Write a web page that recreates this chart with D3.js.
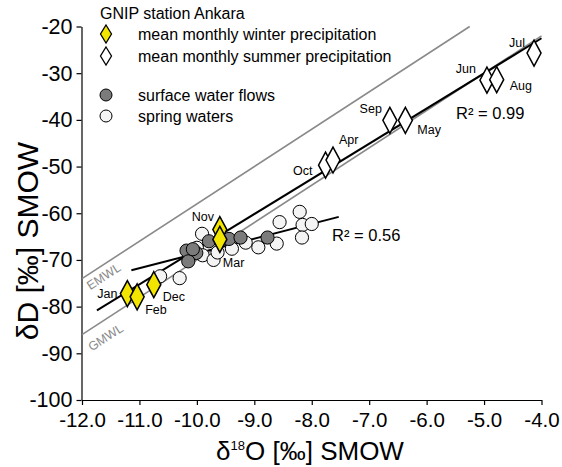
<!DOCTYPE html>
<html>
<head>
<meta charset="utf-8">
<script src="https://cdn.jsdelivr.net/npm/d3@7"></script>
<style>
  body { margin: 0; background: #fff; }
  svg { font-family: "Liberation Sans", Arial, sans-serif; }
</style>
</head>
<body>
<svg id="chart" width="562" height="467"></svg>
<script>
// GNIP station Ankara - monthly means of precipitation
const winterMonths = ['Nov', 'Dec', 'Jan', 'Feb', 'Mar'];
const winterO = [-9.6, -10.75, -11.21, -11.04, -9.6];
const winterD = [-63.5, -75.3, -77.2, -77.9, -65.6];

const summerMonths = ['Oct', 'Apr', 'Sep', 'May', 'Jun', 'Aug', 'Jul'];
const summerO = [-7.76, -7.63, -6.64, -6.37, -4.95, -4.78, -4.13];
const summerD = [-49.7, -48.6, -40.1, -40.1, -31.5, -31.4, -25.7];

// water samples
const surfaceO = [-10.18, -10.01, -10.15, -10.07, -9.79, -9.44, -9.24, -8.77];
const surfaceD = [-68.0, -68.5, -70.3, -67.7, -66.0, -65.5, -65.2, -65.2];

const springO = [-9.91, -10.0, -9.9, -9.71, -9.64, -9.39, -9.15, -8.93, -8.61,
  -8.56, -8.21, -8.16, -8.0, -8.17, -10.64, -10.3];
const springD = [-64.4, -67.4, -69.0, -70.0, -68.4, -67.6, -66.3, -67.3, -66.5,
  -61.9, -59.7, -62.5, -62.3, -65.2, -73.5, -73.9];

// meteoric water lines and fits: [slope, intercept], x range
const gmwl = [8, 10];
const gmwlX = [-12, -4];
const emwl = [8, 22];
const emwlX = [-12, -5.25];
const precipFit = [7.53, 7.6];
const precipFitX = [-11.74, -4.0];
const waterFit = [3.17, -36.9];
const waterFitX = [-11.14, -7.53];

const xTicks = [-12, -11, -10, -9, -8, -7, -6, -5, -4];
const yTicks = [-20, -30, -40, -50, -60, -70, -80, -90, -100];

// label placement around each diamond (pixels)
const labelPos = {
  Jan: [-10, 4, 'end'], Feb: [8, 17, 'start'], Dec: [9, 16, 'start'],
  Nov: [-17, -9, 'middle'], Mar: [3, 28, 'start'],
  Oct: [-13, 10, 'end'], Apr: [6, -16, 'start'],
  Sep: [-8, -7, 'end'], May: [12, 14, 'start'],
  Jun: [-11, -7, 'end'], Aug: [13, 10, 'start'], Jul: [-9, -6, 'end']
};

const svg = d3.select('#chart');
const yellow = '#f2e500';

const x = d3.scaleLinear().domain([-12, -4]).range([82, 541.5]);
const y = d3.scaleLinear().domain([-100, -20]).range([400, 26.5]);

// axes
const xAxis = d3.axisBottom(x).tickValues(xTicks).tickSize(5).tickSizeOuter(0)
  .tickFormat(d => d.toFixed(1));
const yAxis = d3.axisLeft(y).tickValues(yTicks).tickSize(5).tickSizeOuter(0)
  .tickFormat(d => String(d));

const gx = svg.append('g').attr('transform', 'translate(0,400)').call(xAxis);
const gy = svg.append('g').attr('transform', 'translate(81.5,0)').call(yAxis);

[gx, gy].forEach(g => {
  g.select('.domain').attr('stroke', '#000').attr('stroke-width', 1.2);
  g.selectAll('.tick line').attr('stroke', '#000').attr('stroke-width', 1.2);
  g.selectAll('.tick text').attr('fill', '#000')
    .style('font-family', '"Liberation Sans", Arial, sans-serif');
});
gx.selectAll('.tick text').attr('dy', '0.95em').style('font-size', '20.5px');
gy.selectAll('.tick text').attr('x', -9).style('font-size', '21.5px');

// axis titles
svg.append('text')
  .attr('transform', 'translate(38,241)rotate(-90)')
  .attr('text-anchor', 'middle')
  .style('font-size', '30px')
  .text('δD [‰] SMOW');

const xt = svg.append('text')
  .attr('x', 310).attr('y', 460)
  .attr('text-anchor', 'middle')
  .style('font-size', '26px');
xt.append('tspan').text('δ');
xt.append('tspan').attr('dy', -10).style('font-size', '13px').text('18');
xt.append('tspan').attr('dy', 10).text('O [‰] SMOW');

// straight lines
const line = d3.line().x(d => x(d[0])).y(d => y(d[1]));
function fitPoints(coef, xr) {
  return xr.map(v => [v, coef[0] * v + coef[1]]);
}

svg.append('path').datum(fitPoints(emwl, emwlX)).attr('d', line)
  .attr('fill', 'none').attr('stroke', '#8a8a8a').attr('stroke-width', 1.6);
svg.append('path').datum(fitPoints(gmwl, gmwlX)).attr('d', line)
  .attr('fill', 'none').attr('stroke', '#8a8a8a').attr('stroke-width', 1.6);

const angle = Math.atan2(y(8) - y(0), x(1) - x(0)) * 180 / Math.PI;
svg.append('text')
  .attr('transform', `translate(106,280)rotate(${angle})`)
  .attr('text-anchor', 'middle').attr('fill', '#8a8a8a')
  .style('font-size', '12.5px').text('EMWL');
svg.append('text')
  .attr('transform', `translate(108,341)rotate(${angle})`)
  .attr('text-anchor', 'middle').attr('fill', '#8a8a8a')
  .style('font-size', '12.5px').text('GMWL');

svg.append('path').datum(fitPoints(precipFit, precipFitX)).attr('d', line)
  .attr('fill', 'none').attr('stroke', '#000').attr('stroke-width', 2);
svg.append('path').datum(fitPoints(waterFit, waterFitX)).attr('d', line)
  .attr('fill', 'none').attr('stroke', '#000').attr('stroke-width', 2);

// water samples
svg.append('g').selectAll('circle')
  .data(springO.map((o, i) => [o, springD[i]]))
  .enter().append('circle')
  .attr('cx', d => x(d[0])).attr('cy', d => y(d[1])).attr('r', 6.6)
  .attr('fill', '#f4f4f4').attr('stroke', '#000').attr('stroke-width', 1);

svg.append('g').selectAll('circle')
  .data(surfaceO.map((o, i) => [o, surfaceD[i]]))
  .enter().append('circle')
  .attr('cx', d => x(d[0])).attr('cy', d => y(d[1])).attr('r', 6.6)
  .attr('fill', '#7b7b7b').attr('stroke', '#000').attr('stroke-width', 1);

// precipitation diamonds
const diamond = (w, h) => `M0,${-h / 2}L${w / 2},0L0,${h / 2}L${-w / 2},0Z`;

function drawMonths(months, os, ds, fill) {
  const data = months.map((m, i) => ({ m, o: os[i], d: ds[i] }));
  const g = svg.append('g');
  g.selectAll('path').data(data).enter().append('path')
    .attr('d', diamond(14, 26))
    .attr('transform', d => `translate(${x(d.o)},${y(d.d)})`)
    .attr('fill', fill).attr('stroke', '#000').attr('stroke-width', 1.5);
  g.selectAll('text').data(data).enter().append('text')
    .attr('x', d => x(d.o) + labelPos[d.m][0])
    .attr('y', d => y(d.d) + labelPos[d.m][1])
    .attr('text-anchor', d => labelPos[d.m][2])
    .style('font-size', '12.5px')
    .text(d => d.m);
}
drawMonths(winterMonths, winterO, winterD, yellow);
drawMonths(summerMonths, summerO, summerD, '#fff');

// R² labels
svg.append('text').attr('x', 456).attr('y', 119).style('font-size', '16.5px').text('R² = 0.99');
svg.append('text').attr('x', 332).attr('y', 241).style('font-size', '16.5px').text('R² = 0.56');

// legend
const legend = svg.append('g');
legend.append('text').attr('x', 100).attr('y', 19).style('font-size', '16px')
  .text('GNIP station Ankara');
const legendItems = [
  { label: 'mean monthly winter precipitation', y: 34, shape: 'diamond', fill: yellow },
  { label: 'mean monthly summer precipitation', y: 56, shape: 'diamond', fill: '#fff' },
  { label: 'surface water flows', y: 95, shape: 'circle', fill: '#7b7b7b' },
  { label: 'spring waters', y: 116, shape: 'circle', fill: '#f4f4f4' }
];
legendItems.forEach(it => {
  if (it.shape === 'diamond') {
    legend.append('path').attr('d', diamond(11, 18))
      .attr('transform', `translate(106,${it.y})`)
      .attr('fill', it.fill).attr('stroke', '#000').attr('stroke-width', 1.3);
  } else {
    legend.append('circle').attr('cx', 106).attr('cy', it.y).attr('r', 6)
      .attr('fill', it.fill).attr('stroke', '#000').attr('stroke-width', 1);
  }
  legend.append('text').attr('x', 138).attr('y', it.y + 6)
    .style('font-size', '16px').text(it.label);
});
</script>
</body>
</html>
